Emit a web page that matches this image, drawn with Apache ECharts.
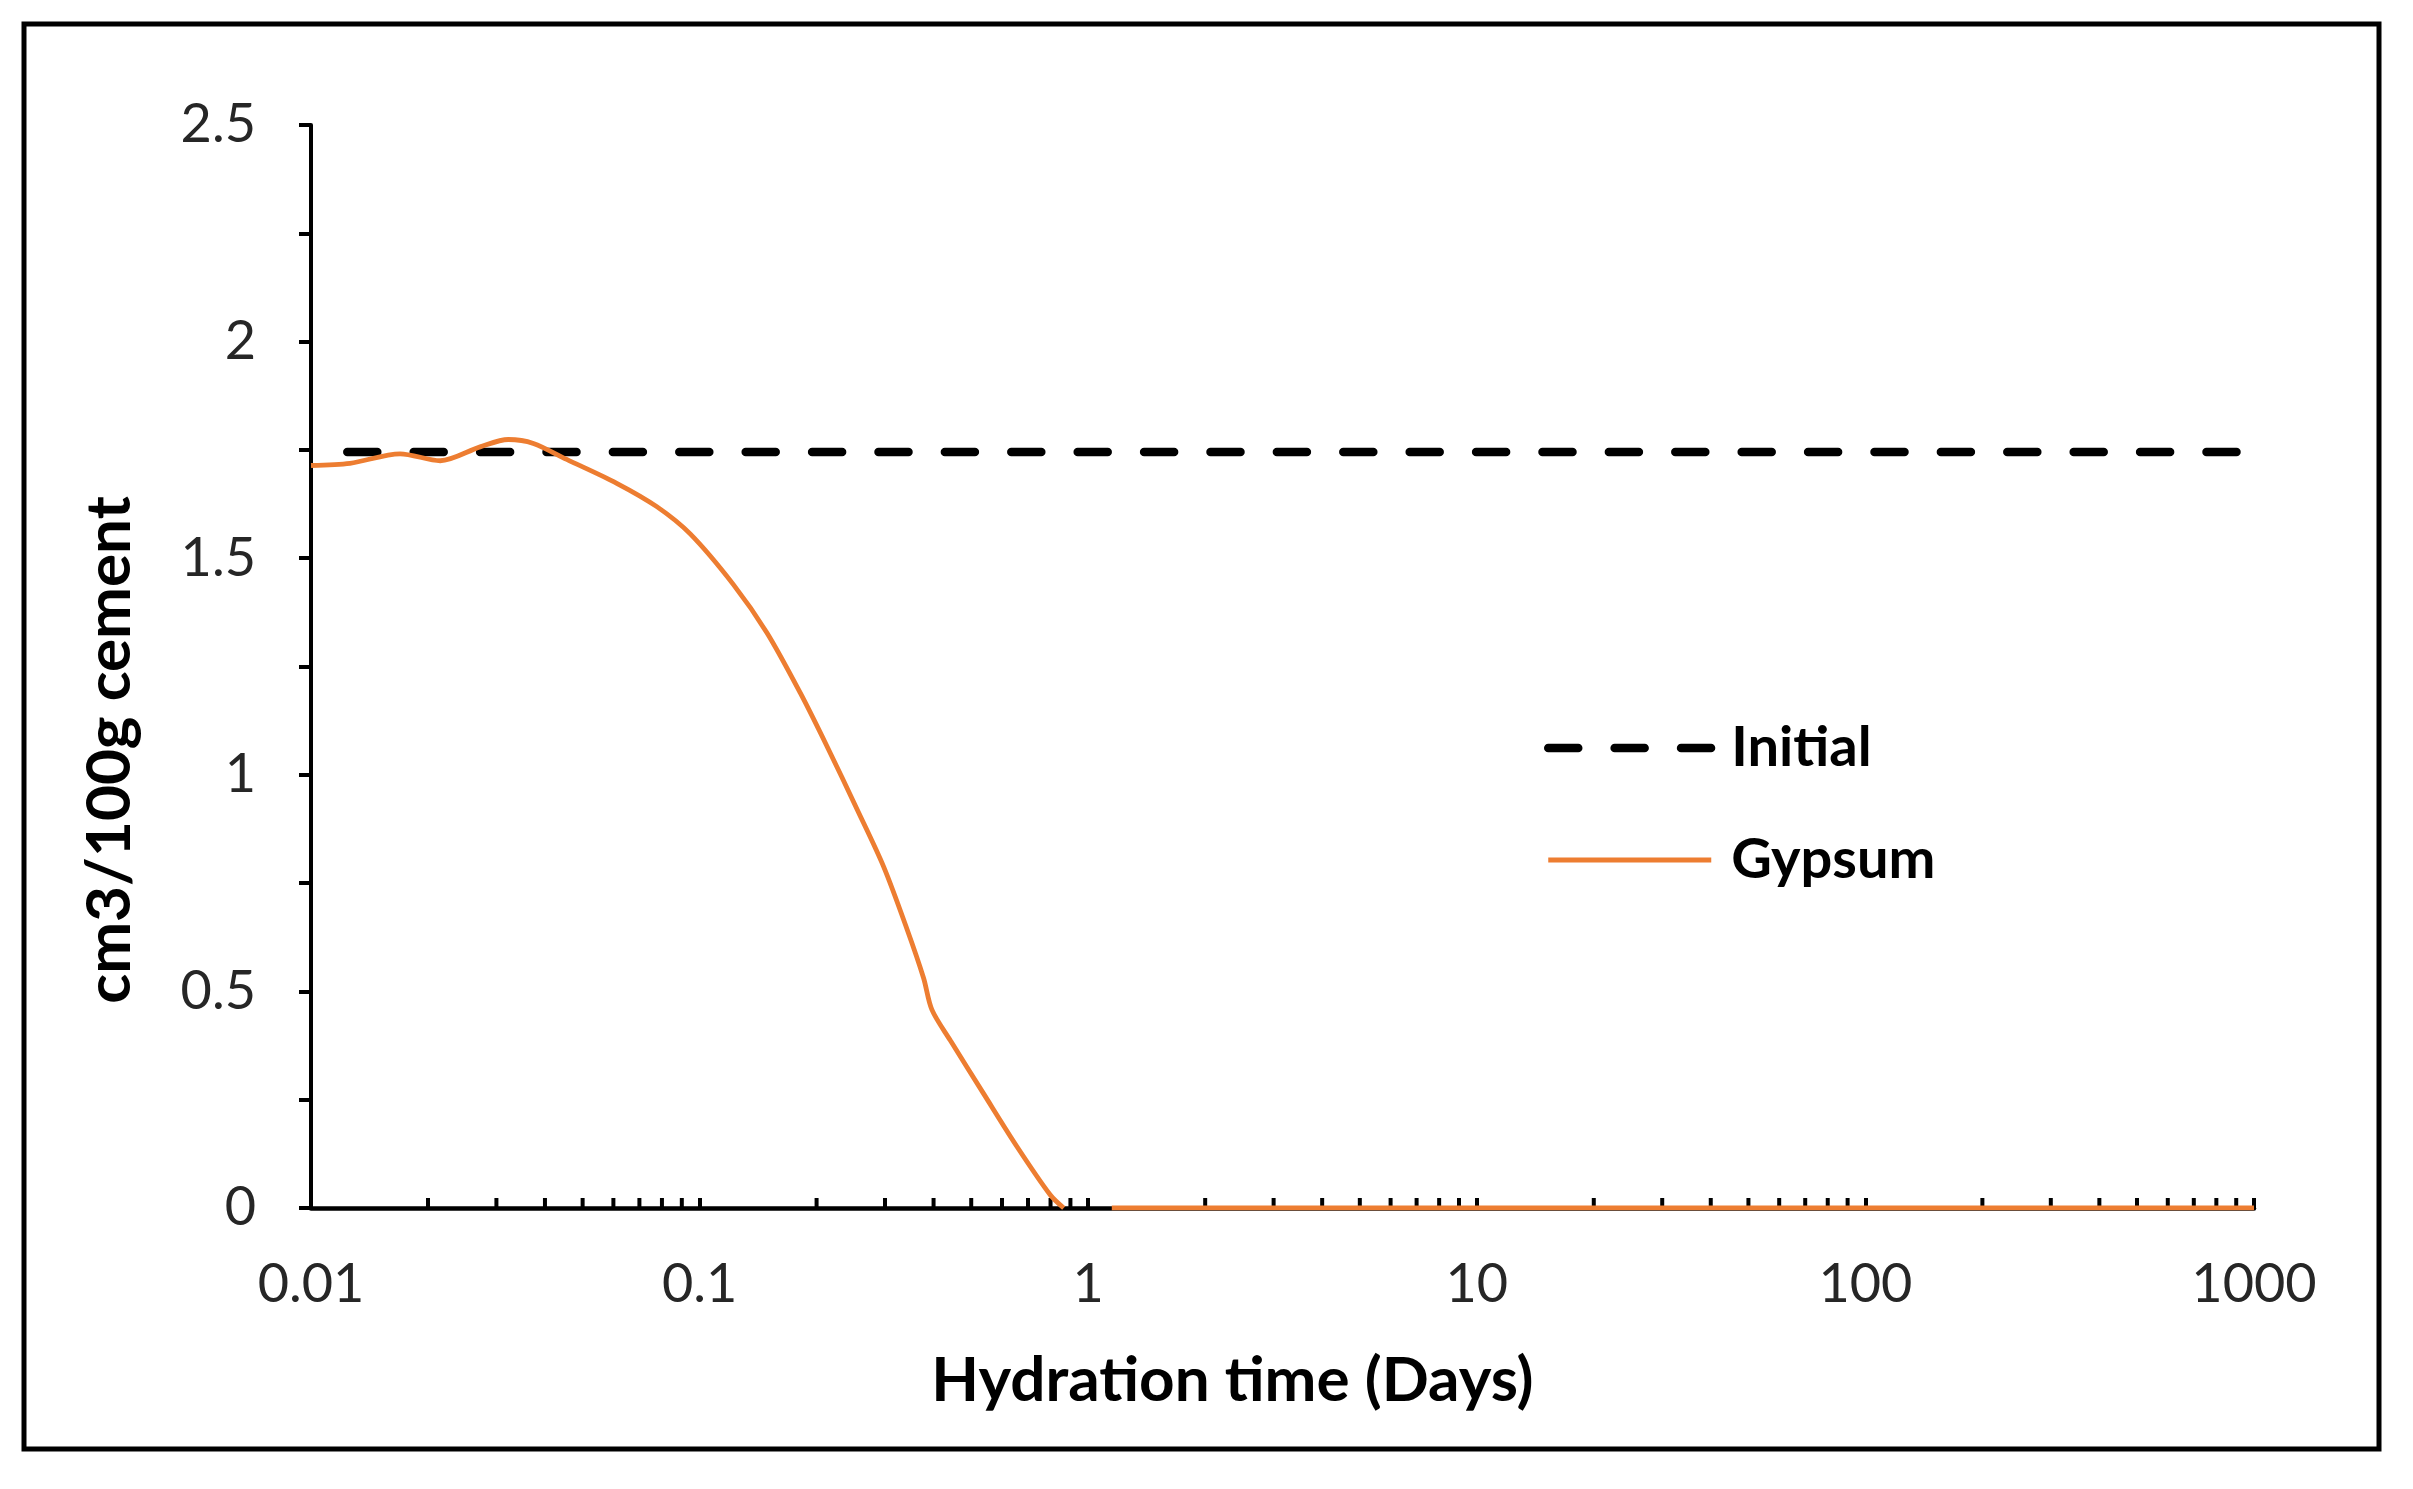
<!DOCTYPE html>
<html lang="en">

<head>
    <meta charset="UTF-8">
    <title>Gypsum</title>
    <script type="text/javascript" src="https://cdn.jsdelivr.net/npm/echarts@6/dist/echarts.min.js"></script>
    <style>
        html, body { margin: 0; padding: 0; background: #fff; }
    </style>
</head>

<body>
    <div id="main" style="width: 2413px; height:1489px;"></div>
    <script type="text/javascript">
        // x = hydration time (days), y = cm3/100g cement
        var initialTime = [0.0124, 1000];
        var initialValue = [1.745, 1.745];

        var gypsumTime = [0.01, 0.0126, 0.01695, 0.0215, 0.02724, 0.0322, 0.03735, 0.0455, 0.0612, 0.0776,
            0.0946, 0.1222, 0.149, 0.1816, 0.2127, 0.254, 0.2975, 0.342, 0.377, 0.396,
            0.4416, 0.538, 0.656, 0.799, 0.865, 1.0, 1.15, 10, 100, 1000];
        var gypsumValue = [1.714, 1.719, 1.741, 1.725, 1.757, 1.774, 1.765, 1.728, 1.673, 1.619,
            1.556, 1.439, 1.328, 1.189, 1.066, 0.921, 0.788, 0.643, 0.531, 0.458,
            0.387, 0.264, 0.1415, 0.030, 0, '-', 0, 0, 0, 0];

        var xTickLabels = ['0.01', '0.1', '1', '10', '100', '1000'];
        var yTickLabels = ['0', '0.5', '1', '1.5', '2', '2.5'];

        // log minor ticks 2..9 inside every decade
        var minorTicks = [];
        for (var d = -2; d < 3; d++) {
            for (var m = 2; m < 10; m++) {
                minorTicks.push([m * Math.pow(10, d), 0]);
            }
        }

        function pairs(xs, ys) {
            return xs.map(function(x, i) { return [x, ys[i]]; });
        }

        var chartDom = document.getElementById('main');
        var myChart = echarts.init(chartDom);
        var option;

        var fontFamily = 'Lato';
        var initialLine = { color: '#000', width: 8.5, type: [30, 36.4], cap: 'round' };
        var gypsumLine = { color: '#ED7D31', width: 4.8 };

        option = {
            animation: false,
            textStyle: { fontFamily: fontFamily },
            grid: {
                left: 311,
                right: 159,
                top: 125,
                bottom: 281,
                containLabel: false
            },
            legend: {
                orient: 'vertical',
                left: 1544,
                top: 720,
                padding: 0,
                itemWidth: 163,
                itemHeight: 20,
                itemGap: 56,
                itemStyle: { opacity: 0 },
                data: [
                    { name: 'Initial', lineStyle: initialLine },
                    { name: 'Gypsum', lineStyle: gypsumLine }
                ],
                textStyle: {
                    fontFamily: fontFamily,
                    fontSize: 56,
                    fontWeight: 'bold',
                    color: '#000',
                    lineHeight: 56,
                    padding: [0, 0, 0, 15]
                }
            },
            xAxis: {
                type: 'log',
                logBase: 10,
                min: 0.01,
                max: 1000,
                name: 'Hydration time (Days)',
                nameLocation: 'middle',
                nameGap: 142,
                nameTextStyle: {
                    fontFamily: fontFamily,
                    fontSize: 62,
                    fontWeight: 'bold',
                    color: '#000',
                    padding: [0, 100, 0, 0]
                },
                axisLine: { show: true, onZero: false, lineStyle: { color: '#000', width: 4.5 } },
                axisTick: { show: true, inside: true, length: 10, lineStyle: { color: '#000', width: 4 } },
                splitLine: { show: false },
                axisLabel: {
                    margin: 50,
                    fontFamily: fontFamily,
                    fontSize: 54,
                    color: '#262626',
                    formatter: function(v) {
                        var i = Math.round(Math.log10(v)) + 2;
                        return xTickLabels[i] !== undefined ? xTickLabels[i] : '';
                    }
                }
            },
            yAxis: {
                type: 'value',
                min: 0,
                max: 2.5,
                interval: 0.5,
                name: 'cm3/100g cement',
                nameLocation: 'middle',
                nameGap: 170,
                nameTextStyle: {
                    fontFamily: fontFamily,
                    fontSize: 62,
                    fontWeight: 'bold',
                    color: '#000',
                    padding: [0, 167, 0, 0]
                },
                axisLine: { show: true, lineStyle: { color: '#000', width: 4 } },
                axisTick: { show: true, inside: false, length: 12, lineStyle: { color: '#000', width: 4 } },
                minorTick: { show: true, splitNumber: 2, length: 12, lineStyle: { color: '#000', width: 4 } },
                splitLine: { show: false },
                minorSplitLine: { show: false },
                axisLabel: {
                    margin: 55,
                    fontFamily: fontFamily,
                    fontSize: 54,
                    color: '#262626',
                    formatter: function(v) {
                        var i = Math.round(v / 0.5);
                        return yTickLabels[i] !== undefined ? yTickLabels[i] : '';
                    }
                }
            },
            series: [{
                name: 'minor ticks',
                type: 'custom',
                silent: true,
                z: 1,
                renderItem: function(params, api) {
                    var p = api.coord([api.value(0), api.value(1)]);
                    return {
                        type: 'line',
                        shape: { x1: p[0], y1: p[1], x2: p[0], y2: p[1] - 10 },
                        style: { stroke: '#000', lineWidth: 4 }
                    };
                },
                data: minorTicks
            }, {
                name: 'Initial',
                type: 'line',
                symbol: 'none',
                z: 3,
                lineStyle: initialLine,
                itemStyle: { color: '#000' },
                data: pairs(initialTime, initialValue)
            }, {
                name: 'Gypsum',
                type: 'line',
                symbol: 'none',
                smooth: 0.3,
                connectNulls: false,
                z: 4,
                lineStyle: gypsumLine,
                itemStyle: { color: '#ED7D31' },
                data: pairs(gypsumTime, gypsumValue)
            }],
            graphic: [{
                type: 'rect',
                silent: true,
                shape: { x: 24, y: 24, width: 2355, height: 1425 },
                style: { fill: 'none', stroke: '#000', lineWidth: 5 }
            }]
        };

        option && myChart.setOption(option);
    </script>

</body>

</html>
